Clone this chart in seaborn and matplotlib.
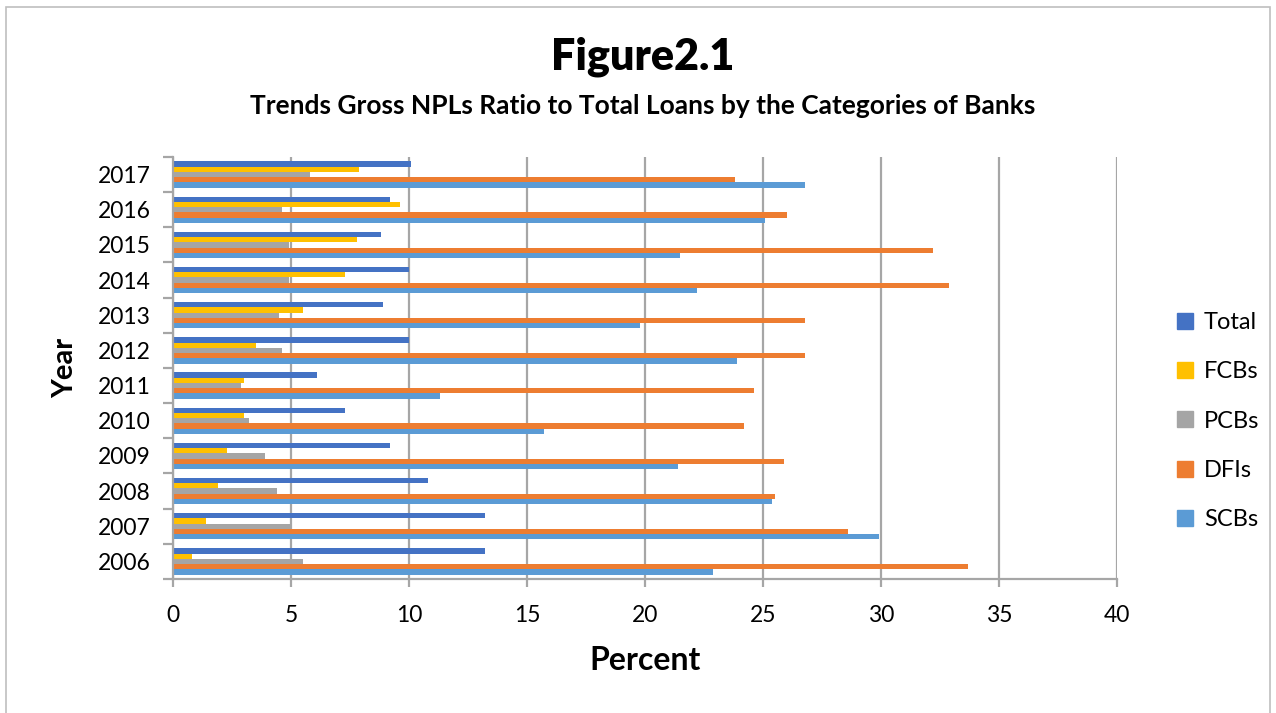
import matplotlib
matplotlib.use("Agg")
import matplotlib.pyplot as plt
import seaborn as sns
import pandas as pd
import numpy as np
from matplotlib.patches import Rectangle
from matplotlib.lines import Line2D

years = [2017, 2016, 2015, 2014, 2013, 2012, 2011, 2010, 2009, 2008, 2007, 2006]
series = ["Total", "FCBs", "PCBs", "DFIs", "SCBs"]
total = [10.1, 9.2, 8.8, 10.0, 8.9, 10.0, 6.1, 7.3, 9.2, 10.8, 13.2, 13.2]
fcbs = [7.9, 9.6, 7.8, 7.3, 5.5, 3.5, 3.0, 3.0, 2.3, 1.9, 1.4, 0.8]
pcbs = [5.8, 4.6, 4.9, 4.9, 4.5, 4.6, 2.9, 3.2, 3.9, 4.4, 5.0, 5.5]
dfis = [23.8, 26.0, 32.2, 32.9, 26.8, 26.8, 24.6, 24.2, 25.9, 25.5, 28.6, 33.7]
scbs = [26.8, 25.1, 21.5, 22.2, 19.8, 23.9, 11.3, 15.7, 21.4, 25.4, 29.9, 22.9]
colors = ["#4472C4", "#FFC000", "#A5A5A5", "#ED7D31", "#5B9BD5"]

vals = {"Total": total, "FCBs": fcbs, "PCBs": pcbs, "DFIs": dfis, "SCBs": scbs}
rows = []
for s in series:
    for y, v in zip(years, vals[s]):
        rows.append({"Year": str(y), "Series": s, "Value": v})
df = pd.DataFrame(rows)

sns.set_theme(style="white")
plt.rcParams["font.family"] = ["Lato", "DejaVu Sans"]
plt.rcParams["text.color"] = "black"

fig = plt.figure(figsize=(12.76, 7.13), dpi=100)
ax = fig.add_axes([173/1276, 1-579/713, (1117-173)/1276, (579-157)/713])

sns.barplot(data=df, x="Value", y="Year", hue="Series", order=[str(y) for y in years],
            hue_order=series, palette=colors, orient="h", width=0.75, ax=ax,
            saturation=1, errorbar=None, legend=False, edgecolor="none", linewidth=0)

ax.set_xlim(0, 40)
ax.set_ylim(11.5, -0.5)
ax.set_xticks(np.arange(0, 41, 5))
ax.set_xticklabels([str(v) for v in range(0, 41, 5)])
ax.xaxis.grid(True, color="#A6A6A6", linewidth=1.6)
ax.yaxis.grid(False)
ax.set_axisbelow(True)

for side in ["top", "right"]:
    ax.spines[side].set_visible(False)
for side in ["left", "bottom"]:
    ax.spines[side].set_visible(True)
    ax.spines[side].set_color("#A6A6A6")
    ax.spines[side].set_linewidth(1.6)

ax.set_yticks(np.arange(-0.5, 12, 1), minor=True)
ax.tick_params(axis="y", which="major", length=0, pad=16, labelsize=16.5, labelcolor="black")
ax.tick_params(axis="y", which="minor", length=7, width=1.6, color="#A6A6A6", left=True)
ax.tick_params(axis="x", which="major", length=6, width=1.6, color="#A6A6A6", bottom=True,
               pad=13, labelsize=16.5, labelcolor="black")

ax.set_xlabel("Percent", fontsize=23, fontweight="bold", labelpad=14, color="black")
ax.set_ylabel("Year", fontsize=21, fontweight="bold", labelpad=14, color="black")

fig.text(643/1276, 1-57/713, "Figure2.1", ha="center", va="center", fontsize=31,
         fontweight="heavy", color="black")
fig.text(643/1276, 1-106/713, "Trends Gross NPLs Ratio to Total Loans by the Categories of Banks",
         ha="center", va="center", fontsize=19, fontweight="bold", color="black")

handles = [Line2D([0], [0], marker="s", linestyle="none", markersize=11,
                  markerfacecolor=c, markeredgecolor=c) for c in colors]
fig.legend(handles, series, loc="center left", bbox_to_anchor=(1152/1276, 1-421/713),
           frameon=False, fontsize=17, handletextpad=0.3, labelspacing=1.2,
           handlelength=1.0)

fig.patches.append(Rectangle((6/1276, -0.05), (1270-6)/1276, 1.05-7/713,
                             transform=fig.transFigure, fill=False,
                             edgecolor="#BFBFBF", linewidth=1.2))

fig.savefig("out.png", dpi=100)
